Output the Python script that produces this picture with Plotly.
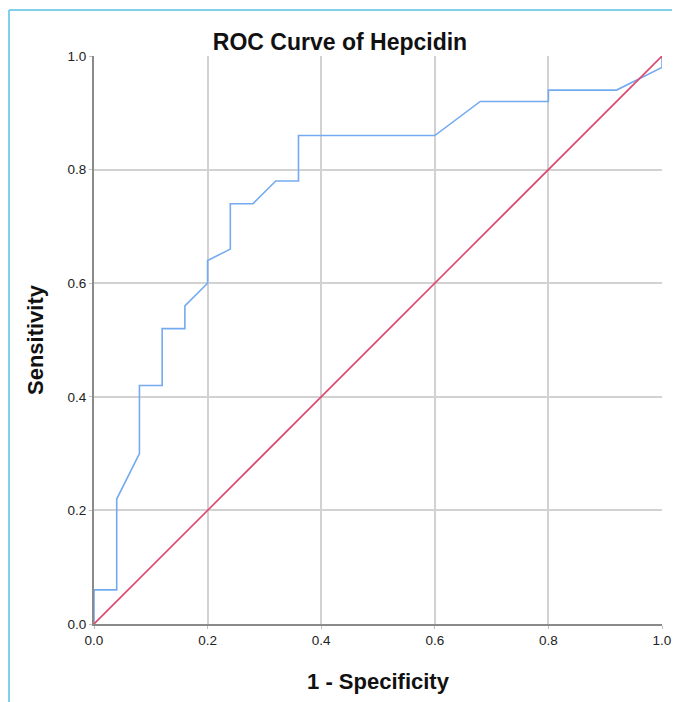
import plotly.graph_objects as go

# ROC curve points (1 - Specificity, Sensitivity)
fpr = [0.0, 0.0, 0.04, 0.04, 0.08, 0.08, 0.12, 0.12, 0.16, 0.16, 0.20, 0.20,
       0.24, 0.24, 0.28, 0.32, 0.36, 0.36, 0.60, 0.68, 0.80, 0.80, 0.92, 1.0, 1.0]
tpr = [0.0, 0.06, 0.06, 0.22, 0.30, 0.42, 0.42, 0.52, 0.52, 0.56, 0.60, 0.64,
       0.66, 0.74, 0.74, 0.78, 0.78, 0.86, 0.86, 0.92, 0.92, 0.94, 0.94, 0.98, 1.0]
ref_x = [0.0, 1.0]
ref_y = [0.0, 1.0]
tick_vals = [0.0, 0.2, 0.4, 0.6, 0.8, 1.0]
tick_text = ["0.0", "0.2", "0.4", "0.6", "0.8", "1.0"]

# page body has an 8px margin; figure placed so its plot area lands where the reference has it
OFF = 8
W, H = 680 - OFF, 702 - OFF
L, T = 94 - OFF, 56 - OFF
R = W + OFF - 662
B = H + OFF - 624
pw, ph = W - L - R, H - T - B

FONT = "Liberation Sans, Arial"

fig = go.Figure()
fig.add_trace(go.Scatter(x=fpr, y=tpr, mode="lines",
                         line=dict(color="#74aaf0", width=1.6), showlegend=False))
fig.add_trace(go.Scatter(x=ref_x, y=ref_y, mode="lines",
                         line=dict(color="#e0466c", width=1.6), showlegend=False))

axis_common = dict(range=[0, 1], tickvals=tick_vals, ticktext=tick_text,
                   showgrid=True, gridcolor="#d2d2d2", gridwidth=2,
                   zeroline=False, showline=True, linecolor="#8a8a8a", linewidth=2,
                   ticks="outside", ticklen=3, tickcolor="#c0c0c0",
                   tickfont=dict(family=FONT, size=13.5, color="#222222"),
                   automargin=False, fixedrange=True)

fig.update_layout(
    width=W, height=H,
    margin=dict(l=L, r=R, t=T, b=B, autoexpand=False),
    paper_bgcolor="white", plot_bgcolor="white",
    title=dict(text="<b>ROC Curve of Hepcidin</b>", xref="paper",
               x=((340 - OFF) - L) / pw, xanchor="center",
               y=1 - (42 - OFF) / H, yanchor="middle",
               font=dict(family=FONT, size=23, color="#111111")),
    xaxis=dict(**axis_common,
               title=dict(text="<b>1 - Specificity</b>", standoff=26,
                          font=dict(family=FONT, size=22, color="#111111"))),
    yaxis=dict(**axis_common,
               title=dict(text="<b>Sensitivity</b>", standoff=18,
                          font=dict(family=FONT, size=22, color="#111111"))),
)

# light blue frame (top and left edges)
x_left = (1 - L) / pw
y_top = 1 + (T - (10 - OFF)) / ph
x_right = 1 + R / pw
y_bottom = -B / ph
border = dict(color="#80d0ea", width=2)
fig.add_shape(type="line", xref="paper", yref="paper", x0=x_left, x1=x_right,
              y0=y_top, y1=y_top, line=border)
fig.add_shape(type="line", xref="paper", yref="paper", x0=x_left, x1=x_left,
              y0=y_top, y1=y_bottom, line=border)

fig.write_html("out.html")
